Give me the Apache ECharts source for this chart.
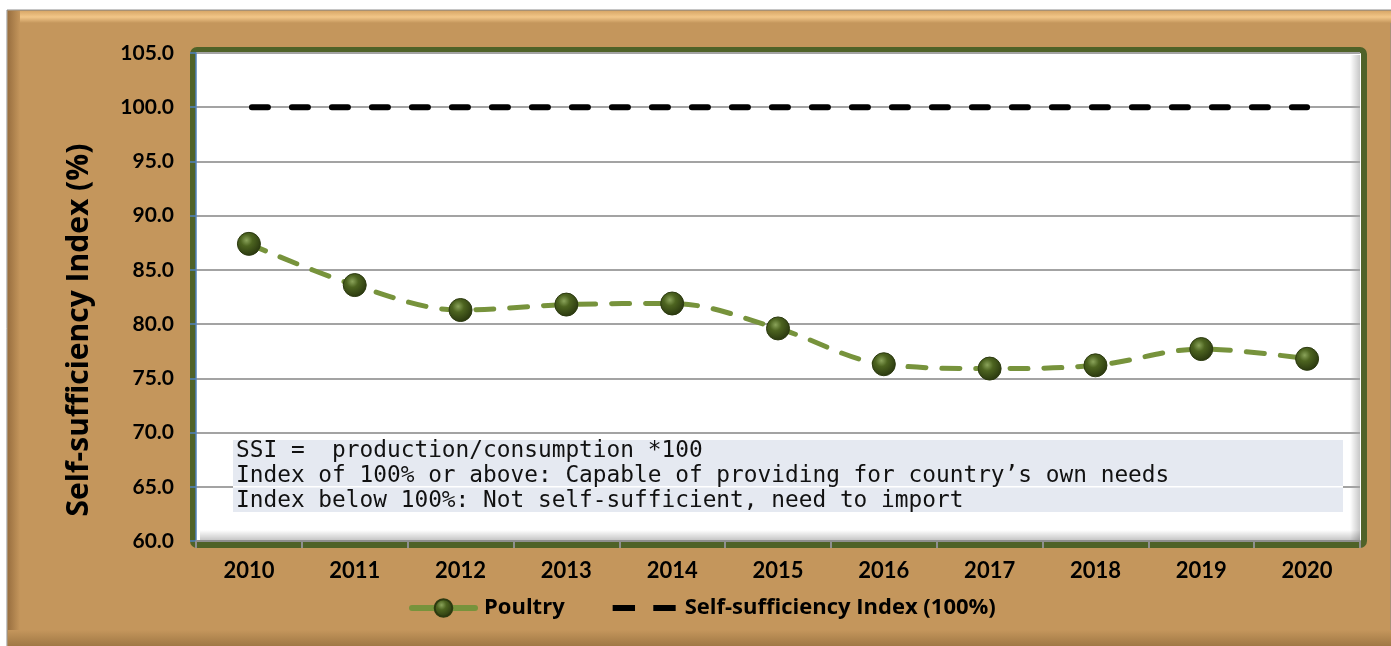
<!DOCTYPE html>
<html><head><meta charset="utf-8">
<script src="https://cdn.jsdelivr.net/npm/echarts@6/dist/echarts.min.js"></script>
<style>html,body{margin:0;padding:0;background:#fff}#c{width:1391px;height:646px}</style>
</head><body><div id="c"></div>
<script>
const years = ['2010','2011','2012','2013','2014','2015','2016','2017','2018','2019','2020'];
const poultry = [87.4, 83.6, 81.3, 81.8, 81.9, 79.6, 76.3, 75.9, 76.2, 77.7, 76.8];
const ssiRef = [100, 100, 100, 100, 100, 100, 100, 100, 100, 100, 100];
const yTicks = [60, 65, 70, 75, 80, 85, 90, 95, 100, 105];
const noteLines = [
  'SSI =  production/consumption *100',
  'Index of 100% or above: Capable of providing for country\u2019s own needs',
  'Index below 100%: Not self-sufficient, need to import'
];
const seriesNames = ['Poultry', 'Self-sufficiency Index (100%)'];

const chart = echarts.init(document.getElementById('c'));
const FONT = 'Lato';
const markerGrad = new echarts.graphic.RadialGradient(0.4, 0.35, 0.7, [
  {offset: 0, color: '#8aa35a'}, {offset: 0.35, color: '#4d6420'}, {offset: 1, color: '#26330d'}
]);
const graphics = [
  {type:'rect', z:-20, shape:{x:7,y:10,width:1384,height:640}, style:{fill:'#c4965c', stroke:'#8c8c8c', lineWidth:1}},
  {type:'rect', z:-19, shape:{x:8,y:11,width:1383,height:12}, style:{fill:new echarts.graphic.LinearGradient(0,0,0,1,[{offset:0,color:'#d9a868'},{offset:0.5,color:'#f2c688'},{offset:1,color:'#c4965c'}])}},
  {type:'rect', z:-19, shape:{x:8,y:11,width:12,height:630}, style:{fill:new echarts.graphic.LinearGradient(0,0,1,0,[{offset:0,color:'#9a7040'},{offset:1,color:'#c4965c'}])}},
  {type:'rect', z:-19, shape:{x:8,y:630,width:1383,height:16}, style:{fill:new echarts.graphic.LinearGradient(0,0,0,1,[{offset:0,color:'#c4965c'},{offset:1,color:'#a07845'}])}},
  {type:'rect', z:-10, shape:{x:193,y:50,width:1171,height:495,r:4}, style:{fill:'#ffffff', stroke:'#4f6228', lineWidth:6}},
  {type:'rect', z:-9, shape:{x:1350,y:55,width:10,height:485}, style:{fill:new echarts.graphic.LinearGradient(0,0,1,0,[{offset:0,color:'rgba(0,0,0,0)'},{offset:1,color:'rgba(0,0,0,0.22)'}])}},
  {type:'rect', z:-9, shape:{x:200,y:530,width:1160,height:10}, style:{fill:new echarts.graphic.LinearGradient(0,0,0,1,[{offset:0,color:'rgba(0,0,0,0)'},{offset:1,color:'rgba(0,0,0,0.22)'}])}},
  {type:'rect', z:5, shape:{x:233,y:440,width:1110,height:72}, style:{fill:'#e5e9f1'}},
  {type:'rect', z:6, shape:{x:233,y:486,width:1110,height:1.5}, style:{fill:'#ffffff'}}
];
noteLines.forEach((t, i) => {
  graphics.push({type:'text', z:7, x:236, y:451 + i*25,
    style:{text:t, font:'22.8px "DejaVu Sans Mono", monospace', fill:'#111', verticalAlign:'middle', textAlign:'left'}});
});

chart.setOption({
  animation: false,
  backgroundColor: '#ffffff',
  graphic: graphics,
  grid: {left: 196, right: 31, top: 53, bottom: 105, containLabel: false},
  legend: {
    bottom: 22, left: 404, itemGap: 48, itemWidth: 63, itemHeight: 22,
    textStyle: {fontFamily: 'Open Sans', fontWeight: 'bold', fontSize: 22, color: '#000', padding: [0, 0, 0, 4]},
    data: [
      {name: seriesNames[0], lineStyle: {width: 6, type: 'solid', color: '#77933c'}, itemStyle: {color: markerGrad}},
      {name: seriesNames[1], icon: 'path://M0,8 L22,8 L22,14 L0,14 Z M40,8 L62,8 L62,14 L40,14 Z', itemStyle:{color:'#000'}}
    ]
  },
  xAxis: {
    type: 'category', data: years, boundaryGap: true,
    axisLine: {lineStyle: {color: '#8f8f8f', width: 2}},
    axisTick: {show: true, length: 7, lineStyle: {color: '#8f8f8f', width: 2}},
    axisLabel: {fontFamily: FONT, fontWeight: 'bold', fontSize: 22, color: '#000', margin: 19}
  },
  yAxis: {
    type: 'value', min: 60, max: 105, interval: 5,
    name: 'Self-sufficiency Index (%)', nameLocation: 'middle', nameGap: 102,
    nameTextStyle: {fontFamily: 'Open Sans', fontWeight: 'bold', fontSize: 30, color: '#000', padding: [0, 66, 0, 0]},
    axisLine: {show: true, lineStyle: {color: '#4f81bd', width: 1.5}},
    axisTick: {show: true, length: 6, lineStyle: {color: '#4f81bd', width: 1.5}},
    axisLabel: {fontFamily: FONT, fontWeight: 'bold', fontSize: 21, color: '#000', margin: 22,
      formatter: v => yTicks.includes(v) ? v.toFixed(1) : ''},
    splitLine: {lineStyle: {color: '#a3a3a3', width: 2}}
  },
  series: [
    {
      name: seriesNames[0], type: 'line', data: poultry, smooth: 0.35, z: 3,
      symbol: 'circle', symbolSize: 23,
      lineStyle: {color: '#77933c', width: 5, type: [18, 16], cap: 'round'},
      itemStyle: {color: markerGrad, borderColor: '#2c3a10', borderWidth: 1},
      emphasis: {disabled: true}
    },
    {
      name: seriesNames[1], type: 'line', data: ssiRef, symbol: 'none', z: 3,
      lineStyle: {color: '#000', width: 6, type: [16, 24], dashOffset: -3, cap: 'round'},
      itemStyle: {color: '#000'},
      emphasis: {disabled: true}
    }
  ]
});
</script></body></html>
